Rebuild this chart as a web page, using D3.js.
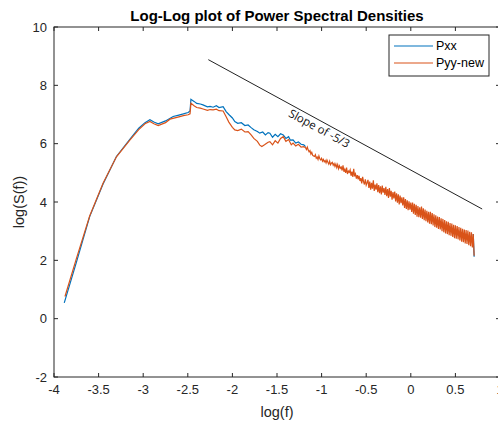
<!DOCTYPE html>
<html>
<head>
<meta charset="utf-8">
<script src="https://cdn.jsdelivr.net/npm/d3@7"></script>
<style>
body { margin: 0; background: #fff; }
svg { display: block; font-family: "Liberation Sans", Arial, sans-serif; }
</style>
</head>
<body>
<div id="chart"></div>
<script>
// head of each spectrum (low frequencies)
var pxxX = [-3.885, -3.75, -3.6, -3.45, -3.3, -3.15, -3.05, -2.98, -2.925, -2.88, -2.832, -2.75, -2.664, -2.6, -2.55, -2.496, -2.475, -2.465, -2.43, -2.40, -2.36, -2.33, -2.28, -2.25, -2.216, -2.18, -2.15, -2.104, -2.07, -2.04, -2.0, -1.973, -1.94, -1.90, -1.86, -1.824, -1.79, -1.76, -1.72, -1.693, -1.66, -1.63, -1.60, -1.58, -1.55, -1.52, -1.49, -1.46, -1.43, -1.40, -1.37, -1.35, -1.32, -1.29, -1.26, -1.23, -1.20, -1.18];
var pxxY = [0.54, 1.92, 3.50, 4.62, 5.56, 6.15, 6.53, 6.72, 6.82, 6.74, 6.68, 6.78, 6.93, 6.98, 7.02, 7.07, 7.12, 7.52, 7.45, 7.38, 7.36, 7.33, 7.26, 7.28, 7.25, 7.30, 7.24, 7.27, 7.10, 7.00, 6.88, 6.76, 6.70, 6.72, 6.62, 6.64, 6.55, 6.48, 6.42, 6.36, 6.40, 6.30, 6.38, 6.36, 6.22, 6.32, 6.24, 6.34, 6.30, 6.18, 6.24, 6.12, 6.13, 6.02, 6.06, 5.98, 5.96, 5.90];
// last bit of Pxx that pokes out under Pyy-new at the end
var pxxEndX = [0.70, 0.71];
var pxxEndY = [2.90, 2.12];

var pyyX = [-3.877, -3.75, -3.6, -3.45, -3.3, -3.15, -3.05, -2.98, -2.925, -2.88, -2.832, -2.75, -2.70, -2.6, -2.55, -2.496, -2.475, -2.465, -2.43, -2.40, -2.36, -2.328, -2.28, -2.25, -2.216, -2.18, -2.15, -2.104, -2.07, -2.04, -2.0, -1.973, -1.94, -1.90, -1.86, -1.824, -1.79, -1.76, -1.72, -1.693, -1.67, -1.64, -1.60, -1.58, -1.55, -1.52, -1.49, -1.46, -1.43, -1.40, -1.37, -1.34, -1.32, -1.29, -1.26, -1.23, -1.20];
var pyyY = [0.76, 2.05, 3.52, 4.64, 5.55, 6.12, 6.48, 6.68, 6.76, 6.68, 6.62, 6.72, 6.84, 6.92, 6.96, 6.99, 7.02, 7.39, 7.30, 7.24, 7.22, 7.19, 7.14, 7.17, 7.16, 7.18, 7.13, 7.12, 6.92, 6.74, 6.56, 6.47, 6.45, 6.50, 6.40, 6.41, 6.30, 6.18, 6.08, 5.95, 5.90, 5.96, 6.05, 6.07, 5.96, 6.10, 6.02, 6.18, 6.24, 6.08, 6.14, 5.96, 6.02, 5.92, 5.98, 5.88, 5.90];

// high-frequency tail of Pyy-new (Pxx lies under it), one value every 0.01 in log f
var tailStart = -1.18, tailStep = 0.01;
var tailY = [
  5.86, 5.80, 5.88, 5.78, 5.72, 5.76, 5.64, 5.70, 5.60, 5.58,
  5.56, 5.62, 5.50, 5.54, 5.46, 5.58, 5.48, 5.44, 5.50, 5.40,
  5.46, 5.38, 5.42, 5.34, 5.44, 5.36, 5.30, 5.40, 5.28, 5.33,
  5.36, 5.26, 5.32, 5.22, 5.30, 5.18, 5.28, 5.14, 5.24, 5.16,
  5.20, 5.08, 5.26, 5.04, 5.12, 5.00, 5.18, 4.96, 5.06, 5.02,
  5.10, 4.90, 5.04, 4.86, 5.14, 4.88, 4.96, 4.80, 4.92, 4.78,
  4.90, 4.72, 4.82, 4.64, 4.86, 4.70, 4.60, 4.78, 4.58, 4.66,
  4.76, 4.48, 4.70, 4.42, 4.66, 4.46, 4.74, 4.38, 4.60, 4.42,
  4.64, 4.34, 4.58, 4.30, 4.54, 4.26, 4.56, 4.32, 4.48, 4.24,
  4.52, 4.20, 4.44, 4.14, 4.48, 4.18, 4.38, 4.08, 4.34, 4.12,
  4.36, 4.02, 4.30, 3.98, 4.26, 3.92, 4.22, 3.96, 4.16, 3.88,
  4.16, 3.80, 4.10, 3.76, 4.06, 3.72, 4.02, 3.74, 3.98, 3.66,
  3.98, 3.60, 3.94, 3.56, 3.90, 3.50, 3.86, 3.48, 3.82, 3.46,
  3.84, 3.42, 3.78, 3.38, 3.74, 3.34, 3.70, 3.30, 3.66, 3.26,
  3.66, 3.24, 3.62, 3.20, 3.58, 3.14, 3.54, 3.12, 3.50, 3.08,
  3.48, 3.06, 3.44, 3.00, 3.42, 2.96, 3.38, 2.92, 3.34, 2.90,
  3.32, 2.86, 3.28, 2.84, 3.26, 2.80, 3.22, 2.76, 3.20, 2.74,
  3.18, 2.72, 3.14, 2.68, 3.12, 2.64, 3.08, 2.62, 3.06, 2.58,
  3.04, 2.56, 3.02, 2.52, 2.98, 2.48, 2.96, 2.44, 2.90, 2.16
];

// reference slope line, -5/3
var slopeX = [-2.27, 0.80];
var slopeY = [8.88, 3.76];

var xTicks = [-4, -3.5, -3, -2.5, -2, -1.5, -1, -0.5, 0, 0.5, 1];
var yTicks = [-2, 0, 2, 4, 6, 8, 10];

var seriesNames = ["Pxx", "Pyy-new"];
var seriesColors = ["#0072BD", "#D95319"];

var W = 498, H = 425;
var padL = 54, padR = 500, padT = 27, padB = 377;

var x = d3.scaleLinear().domain([-4, 1]).range([padL, padR]);
var y = d3.scaleLinear().domain([-2, 10]).range([padB, padT]);

var svg = d3.select("#chart").append("svg")
	.attr("width", W)
	.attr("height", H);

function toPts(xs, ys){
	var out = [];
	for (var i = 0; i < xs.length; i++){
		out.push([xs[i], ys[i]]);
	}
	return out;
}
var tail = tailY.map(function(v, i){ return [tailStart + i*tailStep, v]; });

var line = d3.line()
	.x(function(d){ return x(d[0]); })
	.y(function(d){ return y(d[1]); });

var plot = svg.append("g");

// Pxx first, Pyy-new on top
plot.append("path")
	.attr("d", line(toPts(pxxX, pxxY)))
	.attr("fill", "none")
	.attr("stroke", seriesColors[0])
	.attr("stroke-width", 1.2);
plot.append("path")
	.attr("d", line(toPts(pxxEndX, pxxEndY)))
	.attr("fill", "none")
	.attr("stroke", seriesColors[0])
	.attr("stroke-width", 1.2);
plot.append("path")
	.attr("d", line(toPts(pyyX, pyyY).concat(tail)))
	.attr("fill", "none")
	.attr("stroke", seriesColors[1])
	.attr("stroke-width", 1.2);

plot.append("path")
	.attr("d", line(toPts(slopeX, slopeY)))
	.attr("stroke", "#222")
	.attr("stroke-width", 1)
	.attr("fill", "none");

// label along the slope line
var p0 = [x(slopeX[0]), y(slopeY[0])], p1 = [x(slopeX[1]), y(slopeY[1])];
var ang = Math.atan2(p1[1]-p0[1], p1[0]-p0[0]) * 180 / Math.PI;
var lf = -1.0;
var lx = x(lf), ly = y(slopeY[0] + (slopeY[1]-slopeY[0])*(lf-slopeX[0])/(slopeX[1]-slopeX[0]));
svg.append("text")
	.attr("transform", "translate(" + (lx+1) + "," + (ly+1) + ") rotate(" + ang + ")")
	.attr("text-anchor", "middle")
	.attr("dy", "0.95em")
	.style("font-family", "'Open Sans', 'DejaVu Sans', sans-serif")
	.style("font-size", "11.5px")
	.attr("fill", "#111")
	.text("Slope of -5/3");

// axes box
var axisColor = "#262626";
svg.append("rect")
	.attr("x", padL).attr("y", padT)
	.attr("width", padR-padL).attr("height", padB-padT)
	.attr("fill", "none")
	.attr("stroke", axisColor)
	.attr("stroke-width", 1);

var tk = 4;
svg.append("g").selectAll("line").data(xTicks).enter().append("line")
	.attr("x1", function(d){ return x(d); }).attr("x2", function(d){ return x(d); })
	.attr("y1", padB).attr("y2", padB-tk)
	.attr("stroke", axisColor);
svg.append("g").selectAll("line").data(xTicks).enter().append("line")
	.attr("x1", function(d){ return x(d); }).attr("x2", function(d){ return x(d); })
	.attr("y1", padT).attr("y2", padT+tk)
	.attr("stroke", axisColor);
svg.append("g").selectAll("line").data(yTicks).enter().append("line")
	.attr("x1", padL).attr("x2", padL+tk)
	.attr("y1", function(d){ return y(d); }).attr("y2", function(d){ return y(d); })
	.attr("stroke", axisColor);
svg.append("g").selectAll("line").data(yTicks).enter().append("line")
	.attr("x1", padR).attr("x2", padR-tk)
	.attr("y1", function(d){ return y(d); }).attr("y2", function(d){ return y(d); })
	.attr("stroke", axisColor);

svg.append("g").selectAll("text").data(xTicks).enter().append("text")
	.attr("x", function(d){ return x(d); })
	.attr("y", padB+17)
	.attr("text-anchor", "middle")
	.style("font-size", "13px")
	.attr("fill", axisColor)
	.text(function(d){ return d; });
svg.append("g").selectAll("text").data(yTicks).enter().append("text")
	.attr("x", padL-7)
	.attr("y", function(d){ return y(d); })
	.attr("dy", "0.35em")
	.attr("text-anchor", "end")
	.style("font-size", "13px")
	.attr("fill", axisColor)
	.text(function(d){ return d; });

svg.append("text")
	.attr("x", (padL+padR)/2)
	.attr("y", padB+40)
	.attr("text-anchor", "middle")
	.style("font-size", "14.5px")
	.attr("fill", axisColor)
	.text("log(f)");
svg.append("text")
	.attr("transform", "translate(24," + ((padT+padB)/2) + ") rotate(-90)")
	.attr("text-anchor", "middle")
	.style("font-size", "14.5px")
	.attr("fill", axisColor)
	.text("log(S(f))");

svg.append("text")
	.attr("x", (padL+padR)/2)
	.attr("y", 21)
	.attr("text-anchor", "middle")
	.style("font-size", "15px")
	.style("font-weight", "bold")
	.attr("fill", "#000")
	.text("Log-Log plot of Power Spectral Densities");

// legend
var lg = svg.append("g").attr("transform", "translate(389,35)");
lg.append("rect")
	.attr("width", 100).attr("height", 41)
	.attr("fill", "#fff")
	.attr("stroke", axisColor)
	.attr("stroke-width", 1);
seriesNames.forEach(function(name, i){
	var yy = 11 + i*17;
	lg.append("line")
		.attr("x1", 5).attr("x2", 44)
		.attr("y1", yy).attr("y2", yy)
		.attr("stroke", seriesColors[i])
		.attr("stroke-width", 1.2);
	lg.append("text")
		.attr("x", 47).attr("y", yy)
		.attr("dy", "0.35em")
		.style("font-size", "12.5px")
		.attr("fill", "#000")
		.text(name);
});
</script>
</body>
</html>
